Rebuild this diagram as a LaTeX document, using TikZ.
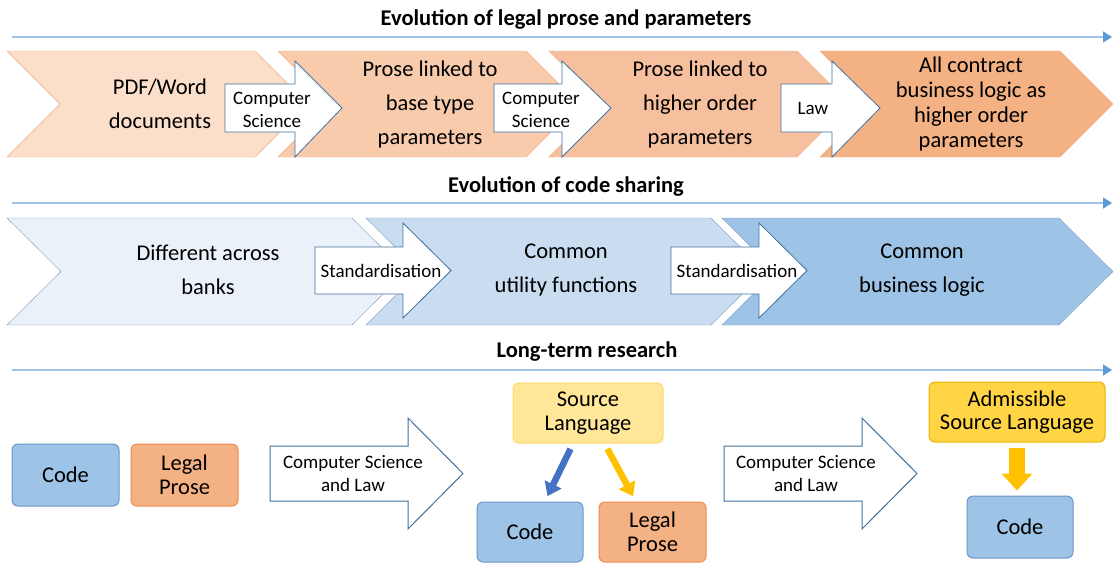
\documentclass[tikz,border=0pt]{standalone}
\usepackage{fontspec}
\setmainfont{Carlito}
\usetikzlibrary{arrows.meta}
\definecolor{peachA}{HTML}{FBDFCB}
\definecolor{peachB}{HTML}{F8CBAD}
\definecolor{peachC}{HTML}{F6C09E}
\definecolor{peachD}{HTML}{F4B183}
\definecolor{peachEdge}{HTML}{F2AE80}
\definecolor{skyA}{HTML}{EAF1F9}
\definecolor{skyB}{HTML}{C9DCF0}
\definecolor{skyC}{HTML}{9DC3E6}
\definecolor{skyEdge}{HTML}{7F9FC6}
\definecolor{lineblue}{HTML}{9DC3E6}
\definecolor{tipblue}{HTML}{5B9BD5}
\definecolor{arrowedge}{HTML}{41719C}
\definecolor{codefill}{HTML}{9DC3E6}
\definecolor{codeedge}{HTML}{6C96C6}
\definecolor{prosefill}{HTML}{F4B183}
\definecolor{proseedge}{HTML}{EE8A4E}
\definecolor{srcfill}{HTML}{FFE699}
\definecolor{srcedge}{HTML}{FFD966}
\definecolor{admfill}{HTML}{FFD545}
\definecolor{admedge}{HTML}{EBB300}
\definecolor{darkblue}{HTML}{4472C4}
\definecolor{amber}{HTML}{FFC000}

\begin{document}
\begin{tikzpicture}[x=1pt, y=-1pt,
   heading/.style = {font=\bfseries\fontsize{22.5}{26}\selectfont},
   stage/.style = {align=center, font=\fontsize{22.5}{34}\selectfont},
   tag/.style = {align=center, font=\fontsize{19}{23}\selectfont},
   block/.style = {draw=arrowedge, fill=white, line width=0.8pt},
   timeline/.style = {draw=lineblue, line width=1.6pt,
     -{Triangle[color=tipblue, length=9pt, width=11pt]}},
   box/.style = {draw, rounded corners=6pt, line width=1pt, align=center,
     inner sep=0pt, minimum width=107pt, minimum height=62pt,
     font=\fontsize{22.5}{23.5}\selectfont},
   fat/.style = {line width=6.5pt, -{Triangle[length=13pt, width=18pt]},
     shorten <=6pt, shorten >=6pt}]
   \useasboundingbox (0,0) rectangle (1113,563);

   % legal prose
   \node[heading] (h1) at (566,19) {Evolution of legal prose and parameters};
   \coordinate (t1a) at (12,37);
   \coordinate (t1b) at (1112,37);
   \draw[timeline] (t1a) -- (t1b);
   \foreach \x/\w/\c in {7/248/peachA, 278/248/peachB, 549/248/peachC, 820/240/peachD}
     \draw[draw=peachEdge, fill=\c] (\x,51) -- ++(\w,0) -- ++(53,53)
       -- ++(-53,53) -- ++(-\w,0) -- ++(53,-53) -- cycle;
   \foreach \a/\b/\t in {225/295/342, 494/562/611, 781/832/880}
     \draw[block] (\a,84) -- (\b,84) -- (\b,61) -- (\t,108) -- (\b,157)
       -- (\b,132) -- (\a,132) -- cycle;
   \node[stage] (pdf) at (160,104) {PDF/Word\\documents};
   \node[stage] (base) at (430,104) {Prose linked to\\base type\\parameters};
   \node[stage] (higher) at (700,104) {Prose linked to\\higher order\\parameters};
   \node[stage, font=\fontsize{22.5}{25}\selectfont] (logic) at (971,104)
     {All contract\\business logic as\\higher order\\parameters};
   \node[tag] (cs1) at (272,110) {Computer\\Science};
   \node[tag] (cs2) at (541,110) {Computer\\Science};
   \node[tag] (law) at (813,108) {Law};

   % code sharing
   \node[heading] (h2) at (566,186) {Evolution of code sharing};
   \coordinate (t2a) at (12,203);
   \coordinate (t2b) at (1112,203);
   \draw[timeline] (t2a) -- (t2b);
   \foreach \x/\w/\c in {7/345/skyA, 366/345/skyB, 722/337/skyC}
     \draw[draw=skyEdge, fill=\c] (\x,218) -- ++(\w,0) -- ++(54,53.5)
       -- ++(-54,53.5) -- ++(-\w,0) -- ++(54,-53.5) -- cycle;
   \foreach \a/\b/\t in {315/403/451, 671/759/807}
     \draw[block] (\a,247) -- (\b,247) -- (\b,223) -- (\t,270.5) -- (\b,318)
       -- (\b,294) -- (\a,294) -- cycle;
   \node[stage] (diff) at (208,270) {Different across\\banks};
   \node[stage] (util) at (566,270) {Common\\utility functions};
   \node[stage] (biz) at (922,270) {Common\\business logic};
   \node[tag] (std1) at (381,270.5) {Standardisation};
   \node[tag] (std2) at (737,270.5) {Standardisation};

   % research
   \node[heading] (h3) at (587,352) {Long-term research};
   \coordinate (t3a) at (12,370);
   \coordinate (t3b) at (1112,370);
   \draw[timeline] (t3a) -- (t3b);
   \foreach \a/\b/\t in {270/408/463, 724/862/917}
     \draw[block, line width=1pt] (\a,446) -- (\b,446) -- (\b,418) -- (\t,473.5)
       -- (\b,529) -- (\b,501) -- (\a,501) -- cycle;
   \node[tag] (csl1) at (353,474) {Computer Science\\and Law};
   \node[tag] (csl2) at (806,474) {Computer Science\\and Law};

   \node[box, fill=codefill, draw=codeedge] (code1) at (65.5,475) {Code};
   \node[box, fill=prosefill, draw=proseedge] (prose1) at (184.5,475) {Legal\\Prose};
   \node[box, fill=srcfill, draw=srcedge, minimum width=150pt, minimum height=60pt]
     (src) at (588,413) {Source\\Language};
   \node[box, fill=codefill, draw=codeedge, minimum width=106pt, minimum height=60pt]
     (code2) at (530,532) {Code};
   \node[box, fill=prosefill, draw=proseedge, minimum height=60pt]
     (prose2) at (652.5,532) {Legal\\Prose};
   \node[box, fill=admfill, draw=admedge, minimum width=176pt, minimum height=60pt]
     (adm) at (1017,412) {Admissible\\Source Language};
   \node[box, fill=codefill, draw=codeedge, minimum width=106pt] (code3) at (1020,527) {Code};

   \draw[fat, darkblue] (src) -- (code2);
   \draw[fat, amber] (src) -- (prose2);
   \draw[amber, line width=16pt, -{Triangle[length=17pt, width=30pt]},
     shorten <=5pt, shorten >=5pt] (adm.south) -- (adm.south |- code3.north);
\end{tikzpicture}
\end{document}
